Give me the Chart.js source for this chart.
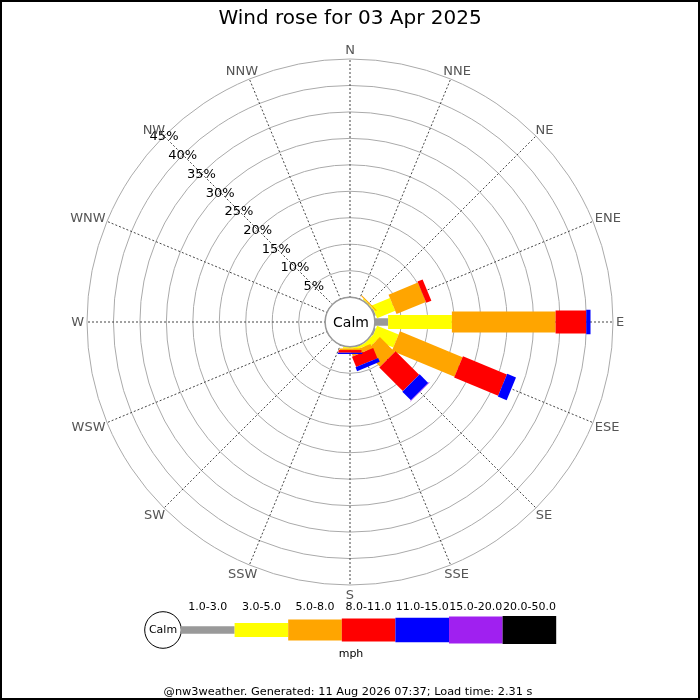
<!DOCTYPE html>
<html>
<head>
<meta charset="utf-8">
<title>Wind rose</title>
<script src="https://cdn.jsdelivr.net/npm/chart.js@4.4.1/dist/chart.umd.min.js"></script>
<style>
  html, body { margin: 0; padding: 0; background: #fff; }
  canvas { display: block; }
</style>
</head>
<body>
<canvas id="rose" width="700" height="700"></canvas>
<script>
// Directions, clockwise from North
const directions = ['N', 'NNE', 'NE', 'ENE', 'E', 'ESE', 'SE', 'SSE',
                    'S', 'SSW', 'SW', 'WSW', 'W', 'WNW', 'NW', 'NNW'];

// Speed bins (mph) and their colours
const speedBins = ['1.0-3.0', '3.0-5.0', '5.0-8.0', '8.0-11.0', '11.0-15.0', '15.0-20.0', '20.0-50.0'];
const binColours = ['#999999', '#ffff00', '#ffa500', '#ff0000', '#0000ff', '#a020f0', '#000000'];

// Percent of time per direction for each speed bin
const speed1to3   = [0, 0, 0.05, 0.3, 2.5, 0.3, 0.1, 0.1, 0.05, 0, 0, 0, 0, 0, 0, 0];
const speed3to5   = [0, 0, 0.2, 3.7, 12.05, 4.4, 1.2, 0.5, 0.25, 0, 0, 0, 0, 0, 0, 0];
const speed5to8   = [0, 0, 0.2, 6.0, 19.6, 12.8, 4.0, 0.9, 0.3, 0, 0, 0, 0, 0, 0, 0];
const speed8to11  = [0, 0, 0, 1.05, 5.8, 9.0, 6.3, 2.1, 0.5, 0, 0, 0, 0, 0, 0, 0];
const speed11to15 = [0, 0, 0, 0, 0.8, 1.8, 2.3, 0.8, 0.25, 0, 0, 0, 0, 0, 0, 0];
const speed15to20 = [0, 0, 0, 0, 0, 0, 0.1, 0, 0, 0, 0, 0, 0, 0, 0, 0];
const speed20to50 = [0, 0, 0, 0, 0, 0, 0, 0, 0, 0, 0, 0, 0, 0, 0, 0];

// Ring tick values (%)
const ringTicks = [0, 5, 10, 15, 20, 25, 30, 35, 40, 45];

// Bar thickness per bin, in pixels
const binWidths = [7.5, 14, 21, 23, 24.5, 27, 28];

// The calm circle takes up the middle of the rose
const calmOffset = 4.7;
const FONT = "'DejaVu Sans', sans-serif";

const allSeries = [speed1to3, speed3to5, speed5to8, speed8to11, speed11to15, speed15to20, speed20to50];

// Draws stacked bars, calm circle, ring labels and direction labels
const rosePlugin = {
    id: 'rose',
    afterDatasetsDraw(chart) {
        const scale = chart.scales.r;
        const ctx = chart.ctx;
        const cx = scale.xCenter, cy = scale.yCenter;
        const totals = directions.map(() => 0);

        ctx.save();
        chart.data.datasets.forEach(ds => {
            ctx.fillStyle = ds.barColour;
            ds.data.forEach((v, i) => {
                if (!v) return;
                const r0 = scale.getDistanceFromCenterForValue(totals[i]);
                totals[i] += v;
                const r1 = scale.getDistanceFromCenterForValue(totals[i]);
                ctx.save();
                ctx.translate(cx, cy);
                ctx.rotate(scale.getIndexAngle(i) - Math.PI / 2);
                ctx.fillRect(r0, -ds.barWidth / 2, r1 - r0, ds.barWidth);
                ctx.restore();
            });
        });

        // calm circle
        const calmR = scale.getDistanceFromCenterForValue(0);
        ctx.beginPath();
        ctx.arc(cx, cy, calmR, 0, Math.PI * 2);
        ctx.fillStyle = '#fff';
        ctx.fill();
        ctx.lineWidth = 1.5;
        ctx.strokeStyle = '#999';
        ctx.stroke();
        ctx.fillStyle = '#000';
        ctx.font = '14px ' + FONT;
        ctx.textAlign = 'center';
        ctx.textBaseline = 'middle';
        ctx.fillText('Calm', cx + 1, cy + 1);

        // ring labels along the NW axis
        const nw = directions.indexOf('NW');
        ctx.font = '13px ' + FONT;
        ringTicks.forEach(v => {
            if (v === 0) return;
            const p = scale.getPointPosition(nw, scale.getDistanceFromCenterForValue(v));
            ctx.fillText(v + '%', p.x, p.y + 1);
        });

        // direction labels outside the outer ring
        const outer = scale.getDistanceFromCenterForValue(scale.max) + 3;
        ctx.fillStyle = '#555';
        directions.forEach((d, i) => {
            const a = scale.getIndexAngle(i);
            const w = ctx.measureText(d).width;
            const s = Math.sin(a), c = Math.cos(a);
            ctx.fillText(d, cx + outer * s + (w / 2) * s, cy - outer * c - 6.5 * c + 1);
        });
        ctx.restore();
    },
    afterDraw(chart) {
        const ctx = chart.ctx;
        ctx.save();
        // legend: calm circle + one box per speed bin
        const lx = 181, ly = 630, boxW = 53.6;
        ctx.beginPath();
        ctx.arc(163, ly, 18.3, 0, Math.PI * 2);
        ctx.fillStyle = '#fff';
        ctx.fill();
        ctx.strokeStyle = '#000';
        ctx.lineWidth = 1;
        ctx.stroke();
        ctx.fillStyle = '#000';
        ctx.font = '11px ' + FONT;
        ctx.textAlign = 'center';
        ctx.textBaseline = 'middle';
        ctx.fillText('Calm', 163, ly);
        speedBins.forEach((lab, b) => {
            const x = lx + b * boxW;
            ctx.fillStyle = binColours[b];
            ctx.fillRect(x, ly - binWidths[b] / 2, boxW, binWidths[b]);
            ctx.fillStyle = '#000';
            ctx.fillText(lab, x + boxW / 2, 607);
        });
        ctx.fillText('mph', 351, 654);

        ctx.font = '11.3px ' + FONT;
        ctx.fillText('@nw3weather. Generated: 11 Aug 2026 07:37; Load time: 2.31 s', 348, 692);

        // frame
        ctx.strokeStyle = '#000';
        ctx.lineWidth = 4;
        ctx.strokeRect(0, 0, chart.width, chart.height);
        ctx.restore();
    }
};

new Chart(document.getElementById('rose'), {
    type: 'radar',
    data: {
        labels: directions,
        datasets: allSeries.map((series, b) => ({
            label: speedBins[b],
            data: series,
            barColour: binColours[b],
            barWidth: binWidths[b],
            borderWidth: 0,
            backgroundColor: 'rgba(0,0,0,0)',
            pointRadius: 0,
            fill: false
        }))
    },
    options: {
        responsive: false,
        animation: false,
        layout: { padding: { top: 0, left: 86, right: 86, bottom: 114 } },
        plugins: {
            legend: { display: false },
            tooltip: { enabled: false },
            title: {
                display: true,
                text: 'Wind rose for 03 Apr 2025',
                color: '#000',
                font: { family: FONT, size: 20, weight: 'normal', lineHeight: 1.2 },
                padding: { top: 7, bottom: 27.5 }
            }
        },
        scales: {
            r: {
                min: -calmOffset,
                max: 45,
                grid: { circular: true, color: '#aaa', lineWidth: 1 },
                angleLines: { color: '#444', lineWidth: 1, borderDash: [2, 2] },
                pointLabels: { display: false },
                ticks: { display: false },
                afterBuildTicks: axis => {
                    axis.ticks = ringTicks.map(v => ({ value: v }));
                }
            }
        }
    },
    plugins: [rosePlugin]
});
</script>
</body>
</html>
